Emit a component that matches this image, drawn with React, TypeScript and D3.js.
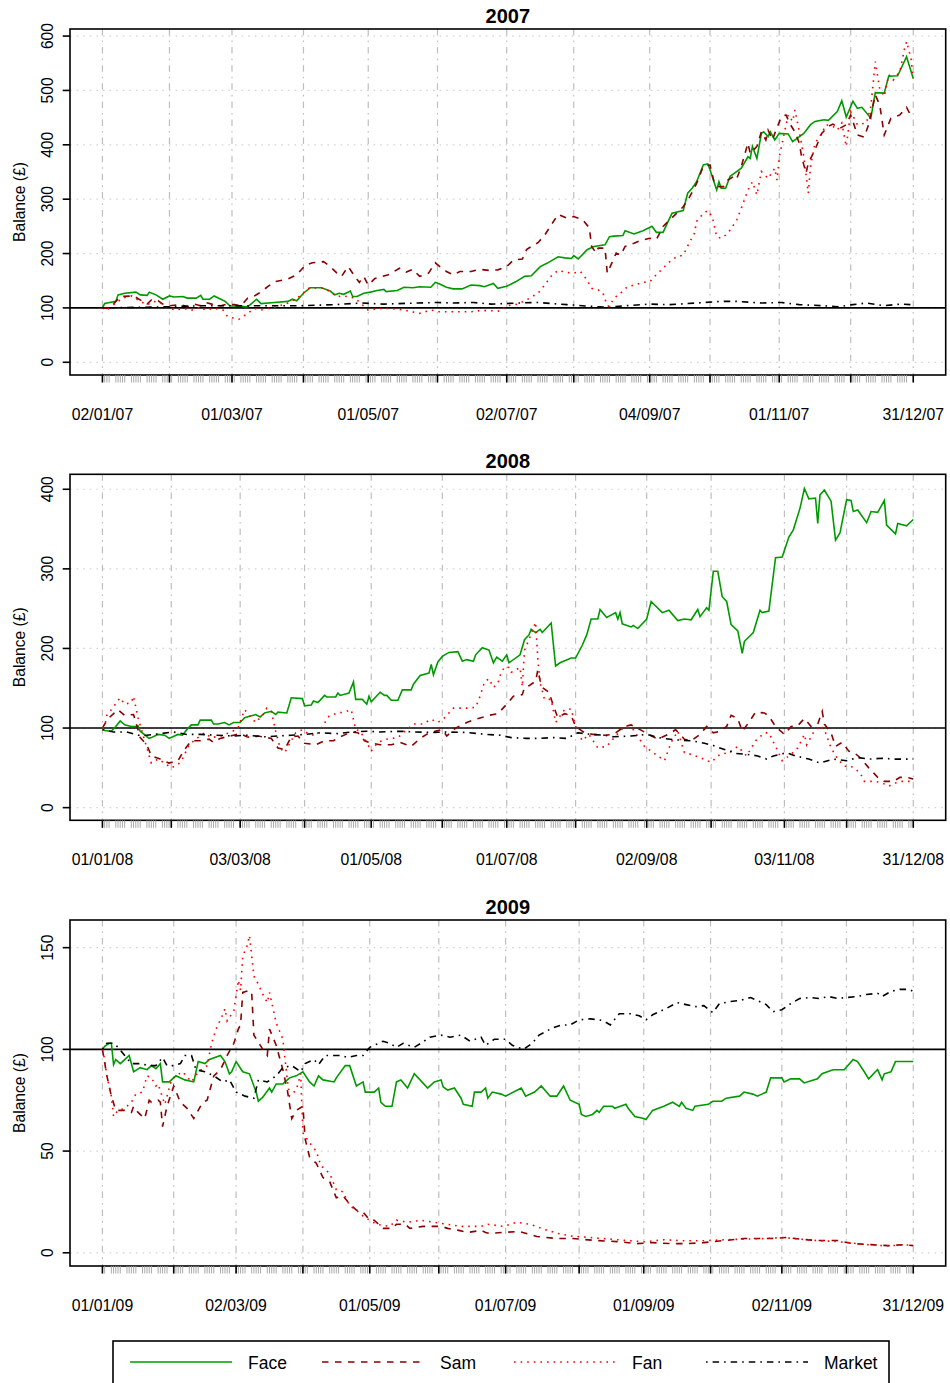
import React from 'react';
import * as d3 from 'd3';

type Pt = [number, number]; // [day of year (0 = 1 Jan), balance £]

// ---------- 2007 ----------
const face2007: Pt[] = [[1,100],[2,108],[7,112],[8,124],[11,127],[16,129],[18,124],[21,123],[22,129],[25,124],[28,116],[31,122],[33,120],[37,121],[39,118],[43,118],[45,123],[46,116],[49,116],[51,122],[54,116],[56,112],[58,104],[66,102],[70,116],[72,108],[78,110],[84,112],[86,116],[88,113],[91,127],[94,137],[99,137],[103,131],[105,124],[107,127],[109,125],[112,131],[113,121],[115,121],[118,127],[121,129],[124,132],[127,134],[128,130],[133,132],[136,138],[140,137],[143,139],[148,138],[150,147],[152,144],[155,138],[158,135],[162,135],[166,142],[170,141],[172,139],[176,145],[178,136],[182,140],[186,148],[190,158],[193,159],[197,176],[200,182],[205,194],[208,192],[211,191],[212,196],[214,190],[218,207],[221,213],[226,216],[228,231],[230,232],[234,233],[235,242],[239,236],[243,242],[247,250],[249,239],[252,239],[254,257],[256,274],[261,279],[263,311],[265,320],[267,332],[270,363],[272,365],[273,354],[276,317],[277,332],[278,320],[280,320],[282,342],[284,348],[287,357],[290,378],[291,375],[292,397],[294,375],[296,421],[297,424],[299,415],[300,424],[302,409],[304,421],[308,420],[310,406],[312,412],[315,421],[318,437],[320,443],[324,446],[326,445],[330,461],[332,481],[334,451],[337,480],[339,467],[341,469],[345,449],[347,496],[351,495],[353,526],[357,527],[361,562],[364,522]];
const sam2007: Pt[] = [[1,100],[4,99],[7,112],[9,121],[15,122],[19,112],[21,107],[23,115],[26,113],[28,107],[31,104],[36,106],[39,102],[42,107],[45,104],[47,110],[50,107],[54,104],[57,107],[60,106],[63,104],[66,118],[69,122],[71,127],[75,139],[78,148],[84,153],[88,161],[92,179],[95,183],[100,185],[103,176],[106,164],[108,158],[111,176],[114,158],[116,147],[118,158],[120,142],[123,154],[129,161],[134,173],[137,166],[140,171],[143,158],[147,164],[150,183],[153,173],[155,167],[158,161],[161,167],[166,167],[170,171],[174,169],[178,170],[182,176],[185,188],[189,190],[191,208],[196,220],[199,234],[202,253],[205,272],[209,265],[212,268],[216,262],[219,247],[220,213],[222,201],[223,210],[226,210],[227,164],[229,182],[231,201],[233,197],[235,213],[239,219],[242,224],[246,228],[249,226],[252,250],[255,262],[258,274],[261,286],[264,305],[267,329],[270,360],[273,363],[275,329],[277,323],[279,323],[281,335],[284,343],[285,338],[287,360],[290,403],[291,384],[294,397],[296,424],[298,409],[299,427],[301,409],[302,421],[305,452],[307,455],[309,437],[311,424],[313,403],[314,378],[316,348],[317,366],[320,391],[323,421],[326,434],[328,438],[331,430],[334,437],[336,455],[339,418],[342,414],[344,437],[347,492],[349,473],[351,418],[354,449],[358,455],[361,469],[363,453]];
const fan2007: Pt[] = [[1,100],[3,96],[7,109],[10,118],[14,122],[18,112],[21,106],[24,112],[27,109],[31,99],[34,96],[37,99],[41,96],[45,102],[47,96],[51,99],[55,96],[57,84],[62,79],[65,87],[69,99],[72,96],[75,99],[79,102],[84,109],[87,115],[90,124],[93,136],[99,137],[103,130],[106,121],[109,122],[114,118],[120,96],[125,99],[130,99],[136,96],[143,90],[148,96],[152,93],[160,93],[166,93],[170,95],[174,95],[179,94],[182,104],[187,107],[191,115],[196,127],[199,142],[202,159],[205,169],[209,165],[212,164],[215,167],[218,151],[220,136],[223,133],[225,128],[227,104],[228,103],[230,118],[233,127],[236,139],[239,142],[243,147],[246,148],[249,161],[252,173],[255,185],[258,194],[261,197],[264,222],[266,237],[267,259],[270,274],[272,279],[274,268],[276,231],[278,228],[280,234],[282,243],[285,262],[287,283],[290,317],[292,332],[294,308],[296,351],[299,338],[302,357],[303,335],[304,378],[305,397],[308,455],[310,443],[311,464],[313,424],[315,378],[317,311],[318,360],[320,403],[323,421],[325,437],[328,434],[330,427],[332,440],[334,397],[336,461],[339,437],[343,440],[345,470],[347,553],[349,502],[351,489],[353,529],[355,519],[358,535],[360,575],[361,590],[363,559],[364,522]];
const market2007: Pt[] = [[1,100],[15,101],[30,102],[45,104],[60,104],[75,104],[90,104],[105,106],[117,109],[127,107],[142,109],[151,110],[158,109],[167,110],[175,107],[187,109],[196,110],[209,106],[223,102],[227,101],[235,104],[246,107],[255,106],[267,109],[278,112],[285,112],[296,109],[305,110],[313,106],[324,104],[330,102],[337,106],[343,109],[351,104],[358,107],[363,106]];

// ---------- 2008 ----------
const face2008: Pt[] = [[0,100],[1,97],[4,96],[6,102],[8,109],[10,104],[13,102],[15,102],[16,103],[17,96],[21,87],[22,88],[25,92],[28,91],[30,87],[34,92],[36,91],[38,98],[40,104],[43,104],[44,110],[49,110],[50,105],[52,105],[55,107],[57,104],[59,107],[62,107],[64,113],[69,117],[71,114],[73,119],[76,121],[78,117],[79,120],[83,119],[85,138],[90,137],[91,128],[94,129],[95,134],[97,132],[100,141],[101,139],[105,139],[106,144],[107,141],[111,144],[113,158],[114,136],[117,136],[119,130],[120,140],[121,133],[125,145],[127,141],[128,141],[130,135],[133,135],[135,148],[139,148],[140,155],[143,166],[147,169],[148,180],[149,167],[151,183],[153,190],[156,195],[160,196],[162,184],[164,186],[167,184],[168,192],[171,201],[174,198],[176,182],[177.5,189],[180,184],[182,192],[183,182],[188,192],[190,211],[192,217],[193,224],[195,220],[197,224],[198,220],[202,232],[204,178],[206,182],[211,188],[213,188],[216,204],[218,217],[220,237],[223,237],[224,249],[227,239],[231,245],[232,237],[233,245],[234,231],[238,227],[239,229],[241,225],[245,237],[247,259],[252,245],[255,248],[259,235],[262,237],[265,236],[268,249],[269,240],[272,251],[273,248],[275,297],[277,297],[279,265],[281,259],[283,230],[286,222],[288,194],[289,209],[293,220],[296,248],[297,245],[300,247],[303,314],[306,315],[309,340],[311,349],[314,376],[316,401],[318,388],[321,389],[322,357],[323,393],[325,399],[328,385],[330,336],[332,345],[335,387],[337,386],[338,372],[340,374],[344,358],[346,372],[349,371],[352,386],[353,355],[357,344],[358,357],[362,354],[365,362]];
const sam2008: Pt[] = [[0,100],[1,105],[3,113],[7,123],[10,116],[14,117],[16,98],[17,88],[20,79],[22,65],[26,61],[30,56],[34,59],[37,73],[40,84],[44,84],[48,86],[50,82],[53,87],[56,89],[59,91],[62,93],[65,89],[68,88],[70,90],[74,88],[76,87],[79,75],[82,73],[85,89],[88,90],[91,81],[96,79],[100,84],[104,84],[107,89],[112,95],[115,94],[118,84],[121,81],[125,79],[130,79],[134,82],[139,77],[143,87],[147,94],[153,98],[155,90],[159,100],[164,107],[168,111],[174,116],[178,118],[182,130],[185,140],[189,142],[190,151],[192,153],[195,159],[196,173],[197,160],[198,151],[201,145],[203,128],[205,113],[208,118],[211,116],[213,102],[217,94],[221,92],[226,91],[230,92],[235,102],[238,104],[242,98],[246,92],[250,86],[256,94],[258,98],[262,86],[265,84],[269,92],[272,102],[275,94],[278,96],[281,102],[283,116],[286,112],[288,96],[291,107],[294,120],[298,119],[300,115],[303,102],[307,92],[310,102],[313,103],[316,112],[319,102],[322,105],[324,121],[325,105],[328,94],[330,77],[333,82],[336,71],[338,70],[341,63],[345,50],[349,38],[352,33],[356,33],[359,38],[362,38],[365,36]];
const fan2008: Pt[] = [[0,100],[1,102],[2,116],[4,123],[8,138],[10,130],[13,132],[14,140],[16,113],[18,94],[20,75],[22,56],[25,61],[28,56],[31,50],[34,54],[36,61],[39,79],[43,88],[46,94],[49,88],[53,90],[58,95],[61,100],[64,123],[67,113],[69,107],[73,119],[74,125],[76,121],[78,96],[80,75],[82,69],[85,84],[87,94],[90,98],[92,94],[96,90],[99,102],[102,115],[106,119],[109,120],[112,123],[114,98],[116,96],[119,82],[121,71],[124,82],[128,86],[133,88],[137,98],[140,105],[144,105],[148,111],[151,107],[154,113],[158,125],[162,125],[164,125],[168,126],[170,140],[172,158],[174,162],[176,151],[178,156],[179,166],[181,177],[183,176],[184,170],[186,173],[188,176],[189,152],[190,198],[192,211],[195,233],[196,186],[197,157],[199,136],[202,136],[204,107],[208,123],[211,124],[213,102],[216,84],[219,92],[223,75],[227,77],[231,90],[235,102],[239,98],[244,77],[249,67],[253,59],[256,82],[259,96],[262,69],[265,67],[269,63],[274,57],[278,67],[282,69],[286,77],[290,65],[294,84],[298,94],[300,94],[303,77],[306,59],[310,67],[313,75],[316,92],[317,79],[320,94],[323,103],[325,98],[328,75],[331,61],[334,52],[337,52],[341,44],[343,33],[348,33],[351,31],[354,27],[357,31],[360,33],[365,33]];
const market2008: Pt[] = [[0,98],[5,95],[11,95],[16,91],[20,91],[26,93],[32,95],[38,92],[44,92],[51,91],[59,90],[65,91],[73,89],[79,90],[85,91],[91,92],[98,94],[106,93],[112,95],[119,96],[125,95],[134,96],[141,95],[149,94.5],[155,95],[164,94.5],[173,92],[179,91],[184,88],[191,87],[196,87],[203,88],[209,87],[214,94],[220,92],[226,91],[230,89],[238,90],[245,92],[252,87],[259,85],[265,84],[271,81],[275,78],[280,73],[285,68],[290,67],[295,65],[299,61],[302,65],[308,69],[312,65],[318,61],[323,56],[329,61],[335,59],[340,63],[345,61],[351,62],[357,61],[365,61]];

// ---------- 2009 ----------
const face2009: Pt[] = [[0,100],[1,101.5],[3,103],[4,103],[5,92.5],[6,95],[8,93],[10,95],[12,97],[14,89],[17,91],[20,90],[22,92],[24,90.5],[26,93],[27,84],[30,84],[33,87],[37,85],[41,84],[43,94],[46,93],[48,95],[53,97],[55,94],[57,88],[58,89],[60,94],[63,89],[66,88],[69,79],[70,74.5],[72,76.5],[75,81],[76,79],[78,83],[81,83],[84,86],[87,87],[90,89],[93,84],[95,82],[97,87],[99,85],[104,84],[105,86],[109,92],[111,92],[114,82],[117,84],[118,79],[120,79],[122,79],[124,81],[125,74],[127,72],[130,72],[132,84],[134,85],[137,81],[140,88],[146,81],[149,84],[152,85],[153,81.5],[155,80],[158,81],[161,76],[162,73],[166,72],[167,79],[170,79],[172,81],[173,76],[175,79],[179,78],[181,77],[188,81],[190,77],[194,79],[197,82],[201,77],[204,77],[207,82],[210,75],[214,73],[215,68],[217,67],[220,68],[222,70],[223,69],[225,72],[229,72],[230,71],[235,73],[236,71],[239,67],[243,66],[244,65.5],[247,70],[252,72],[256,74],[259,72],[260,74],[262,71],[265,70],[266,72],[272,73],[274,74.5],[278,74.5],[280,76],[286,77],[288,79],[292,78],[294,77],[296,78],[298,79],[300,86],[305,86],[306,84],[309,85.5],[313,85.5],[315,83.5],[321,85.5],[323,88],[328,90],[333,90],[337,95],[339,94],[342,89],[344,85.5],[347,89],[348,90],[350,85],[351,88],[354,89],[356,94],[364,94]];
const sam2009: Pt[] = [[0,100],[2,87],[4,77],[6,70],[8,70],[10,70],[13,69],[14,72],[16,69],[19,66],[21,75],[22,74],[25,75],[26,74],[27,62],[29,72],[32,82],[35,74],[38,71],[41,66],[43,70],[45,74],[47,75],[50,87],[53,90],[56,97],[59,103],[61,110],[62,112],[63,128],[66,129],[67,128],[68,107],[72,100],[74,97],[75,110],[78,102],[81,90],[83,80],[85,66],[87,70],[90,72],[91,56],[93,47],[96,44],[99,37],[102,35],[105,27],[108,28],[111,24],[114,21],[117,20],[120,16],[122,16],[126,12],[130,12],[132,14],[136,14],[138,12],[144,13],[149,13],[152,13],[155,12],[160,11],[164,10],[170,11],[172,10],[174,9.5],[180,10],[187,10.5],[195,8],[204,7],[211,7],[222,6],[231,5.5],[240,4.5],[247,5],[255,4.5],[262,4.5],[270,5],[279,6],[288,7],[292,7],[300,7],[307,7.5],[315,6.5],[322,6],[330,6],[337,4.5],[345,4],[353,3.5],[360,4],[364,3.5]];
const fan2009: Pt[] = [[0,100],[1,95],[2,87],[4,77],[5,67],[7,70],[10,71],[13,74],[15,78],[18,79],[20,87],[22,86],[24,82],[25,83],[28,73],[31,85],[33,87],[36,89],[40,84],[43,89],[47,92],[49,103],[51,110],[54,117],[55,120],[56,114],[59,119],[61,134],[62,129],[63,146],[65,151],[66,156],[68,136],[70,132],[72,127],[74,123],[75,128],[77,118],[78,113],[81,105],[83,85],[84,77],[87,80],[89,88],[90,59],[93,54],[96,50],[98,43],[102,39],[105,31],[108,30],[111,23],[114,21],[117,18],[120,16],[123,14],[129,13],[132,16],[137,15],[143,16],[149,15],[155,14],[161,13],[167,13],[170,13],[173,14],[180,13],[186,15],[192,14],[197,12],[204,9.6],[210,8.3],[219,7.5],[228,6.7],[237,5.9],[243,5.4],[252,6.4],[261,5.9],[270,5.9],[279,6.4],[288,6.7],[297,7],[306,7.5],[313,6.7],[322,5.9],[329,5.6],[337,4.7],[345,3.8],[352,3.4],[360,3.8],[364,3.8]];
const market2009: Pt[] = [[0,100],[2,103],[5,103],[7,101],[10,97],[13,93],[17,93],[21,92],[24,92],[27,96],[29,92],[32,92],[35,93],[37,97],[40,97],[42,90],[46,89],[50,87],[54,84],[57,85],[60,79],[64,77],[68,76],[70,85],[74,84],[78,87],[81,91],[85,92],[89,89],[91,93],[95,95],[97,92.5],[100,97],[104,97],[107,97],[110,96],[114,97],[117,97],[120,101],[122,102],[126,104],[129,103],[132,101],[135,103],[140,101],[143,103],[147,106],[152,107],[156,106],[161,107],[165,104],[170,106],[172,102],[176,105],[181,105],[184,102],[189,100],[193,103],[196,107],[202,110.5],[206,112],[210,112],[214,114.5],[219,115],[223,114.5],[225,114],[228,112],[232,117.5],[237,117.5],[241,116.5],[244,114.5],[247,117],[253,120],[258,123],[262,122],[266,121],[270,121.5],[274,118],[277,122.5],[282,123.5],[286,124],[291,125.5],[295,123.5],[298,122],[301,118.5],[305,119.5],[309,122.5],[313,125],[318,125.5],[322,125],[326,126],[330,125],[334,125.5],[339,126],[343,127],[348,127.5],[350,126],[354,128.5],[358,129.5],[362,129.5],[364,128.5]];

// ---------- axes ----------
const monthTicks2007 = ['2007-01-02','2007-02-01','2007-03-01','2007-04-02','2007-05-01','2007-06-01','2007-07-02','2007-08-01','2007-09-04','2007-10-01','2007-11-01','2007-12-03','2007-12-31'];
const monthTicks2008 = ['2008-01-01','2008-02-01','2008-03-03','2008-04-01','2008-05-01','2008-06-02','2008-07-01','2008-08-01','2008-09-02','2008-10-01','2008-11-03','2008-12-01','2008-12-31'];
const monthTicks2009 = ['2009-01-01','2009-02-02','2009-03-02','2009-04-01','2009-05-01','2009-06-01','2009-07-01','2009-08-03','2009-09-01','2009-10-01','2009-11-02','2009-12-01','2009-12-31'];
const labelTicks2007 = ['2007-01-02','2007-03-01','2007-05-01','2007-07-02','2007-09-04','2007-11-01','2007-12-31'];
const labelTicks2008 = ['2008-01-01','2008-03-03','2008-05-01','2008-07-01','2008-09-02','2008-11-03','2008-12-31'];
const labelTicks2009 = ['2009-01-01','2009-03-02','2009-05-01','2009-07-01','2009-09-01','2009-11-02','2009-12-31'];
const yTicks2007 = [0, 100, 200, 300, 400, 500, 600];
const yTicks2008 = [0, 100, 200, 300, 400];
const yTicks2009 = [0, 50, 100, 150];
const yDomain2007: [number, number] = [-23.4, 613];
const yDomain2008: [number, number] = [-15.9, 418.8];
const yDomain2009: [number, number] = [-6.5, 163.6];
const years = [2007, 2008, 2009];
const seriesNames = ['Face', 'Sam', 'Fan', 'Market'];
const baseline = 100;

const panels = [
  { year: 2007, data: [face2007, sam2007, fan2007, market2007], months: monthTicks2007, labels: labelTicks2007, yTicks: yTicks2007, yDomain: yDomain2007 },
  { year: 2008, data: [face2008, sam2008, fan2008, market2008], months: monthTicks2008, labels: labelTicks2008, yTicks: yTicks2008, yDomain: yDomain2008 },
  { year: 2009, data: [face2009, sam2009, fan2009, market2009], months: monthTicks2009, labels: labelTicks2009, yTicks: yTicks2009, yDomain: yDomain2009 },
];

const styles = [
  { color: '#009a00', dash: undefined as string | undefined },
  { color: '#8b0000', dash: '6.5,6.5' },
  { color: '#ff0000', dash: '1.6,5' },
  { color: '#000000', dash: '1.6,5,6.5,5' },
];

const FONT = 'Liberation Sans, Arial, Helvetica, sans-serif';
const W = 950, H = 1383;
const LEFT = 70, RIGHT = 945.7;
const OFFSETS = [0, 445.3, 891];
const BOX_TOP = 29, BOX_BOTTOM = 375;

const parse = d3.utcParse('%Y-%m-%d');
const fmt = d3.utcFormat('%d/%m/%y');
const dayMs = 86400000;

function Panel({ p, offset }: { p: typeof panels[number]; offset: number }) {
  const top = offset + BOX_TOP, bottom = offset + BOX_BOTTOM;
  const start = parse(p.months[0])!;
  const end = parse(p.months[p.months.length - 1])!;
  const pad = (end.getTime() - start.getTime()) * 0.04;
  const x = d3.scaleUtc().domain([new Date(start.getTime() - pad), new Date(end.getTime() + pad)]).range([LEFT, RIGHT]);
  const y = d3.scaleLinear().domain(p.yDomain).range([bottom, top]);
  const jan1 = Date.UTC(p.year, 0, 1);
  const line = d3.line<Pt>().x(d => x(new Date(jan1 + d[0] * dayMs))).y(d => y(d[1]));
  const tradingDays = d3.utcDay.range(start, new Date(end.getTime() + dayMs)).filter(d => d.getUTCDay() !== 0 && d.getUTCDay() !== 6);
  const clipId = `clip${p.year}`;
  return (
    <g>
      <defs>
        <clipPath id={clipId}><rect x={LEFT} y={top} width={RIGHT - LEFT} height={bottom - top} /></clipPath>
      </defs>
      {p.yTicks.map(t => (
        <line key={'h' + t} x1={LEFT} x2={RIGHT} y1={y(t)} y2={y(t)} stroke="#d3d3d3" strokeWidth={1.2} strokeDasharray="1.6,5" />
      ))}
      {p.months.map(m => (
        <line key={'v' + m} x1={x(parse(m)!)} x2={x(parse(m)!)} y1={top} y2={bottom} stroke="#bebebe" strokeWidth={1.2} strokeDasharray="6.5,5,1.6,5" />
      ))}
      <line x1={LEFT} x2={RIGHT} y1={y(baseline)} y2={y(baseline)} stroke="#000" strokeWidth={1.6} />
      <g clipPath={`url(#${clipId})`}>
        {p.data.map((s, i) => (
          <path key={i} d={line(s) || ''} fill="none" stroke={styles[i].color} strokeWidth={1.6} strokeDasharray={styles[i].dash} />
        ))}
      </g>
      <rect x={LEFT} y={top} width={RIGHT - LEFT} height={bottom - top} fill="none" stroke="#000" strokeWidth={1.6} />
      {p.yTicks.map(t => (
        <g key={'y' + t}>
          <line x1={LEFT - 7.3} x2={LEFT} y1={y(t)} y2={y(t)} stroke="#000" strokeWidth={1.6} />
          <text transform={`translate(52.5,${y(t)}) rotate(-90)`} textAnchor="middle" fontFamily={FONT} fontSize={15.6}>{t}</text>
        </g>
      ))}
      <text transform={`translate(24.5,${(top + bottom) / 2}) rotate(-90)`} textAnchor="middle" fontFamily={FONT} fontSize={15.6}>Balance (£)</text>
      {tradingDays.map(d => (
        <line key={'m' + d.getTime()} x1={x(d)} x2={x(d)} y1={bottom} y2={bottom + 7.5} stroke="#a0a0a0" strokeWidth={0.9} />
      ))}
      {p.months.map(m => (
        <line key={'M' + m} x1={x(parse(m)!)} x2={x(parse(m)!)} y1={bottom} y2={bottom + 7.5} stroke="#000" strokeWidth={1.6} />
      ))}
      {p.labels.map(l => (
        <text key={'l' + l} x={x(parse(l)!)} y={offset + 420} textAnchor="middle" fontFamily={FONT} fontSize={15.8}>{fmt(parse(l)!)}</text>
      ))}
      <text x={(LEFT + RIGHT) / 2} y={offset + 22.7} textAnchor="middle" fontFamily={FONT} fontSize={20} fontWeight="bold">{p.year}</text>
    </g>
  );
}

export default function App() {
  const legendY = 1362;
  return (
    <svg width={W} height={H} style={{ position: 'absolute', left: 0, top: 0, background: '#fff' }}>
      <rect x={0} y={0} width={W} height={H} fill="#fff" />
      {panels.map((p, i) => (
        <Panel key={years[i]} p={p} offset={OFFSETS[i]} />
      ))}
      <rect x={113} y={1341} width={776} height={60} fill="none" stroke="#000" strokeWidth={1.6} />
      {seriesNames.map((n, i) => {
        const x0 = 130 + i * 192;
        return (
          <g key={n}>
            <line x1={x0} x2={x0 + 102} y1={legendY} y2={legendY} stroke={styles[i].color} strokeWidth={1.6} strokeDasharray={styles[i].dash} />
            <text x={x0 + 118} y={legendY + 6.5} fontFamily={FONT} fontSize={17.5}>{n}</text>
          </g>
        );
      })}
    </svg>
  );
}
